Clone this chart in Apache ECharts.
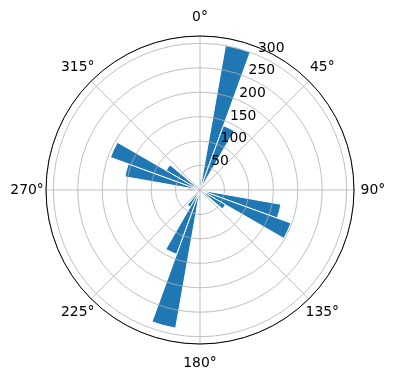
<!DOCTYPE html>
<html><head><meta charset="utf-8">
<script src="https://cdn.jsdelivr.net/npm/echarts@6/dist/echarts.min.js"></script>
<style>html,body{margin:0;padding:0;background:#fff}#c{width:396px;height:380px}</style>
</head><body><div id="c"></div>
<script>
// 10-degree direction bins (start angle of each bin, degrees clockwise from north)
const binStarts = [0,10,20,30,40,50,60,70,80,90,100,110,120,130,140,150,160,170,
                   180,190,200,210,220,230,240,250,260,270,280,290,300,310,320,330,340,350];
// bar heights per bin
const counts = [20,300,140,12,0,0,0,0,0,12,168,198,60,10,0,0,0,0,
                20,287,140,40,0,0,0,0,0,25,156,195,80,10,0,0,0,0];
// tick labels
const angleTicks = [0,45,90,135,180,225,270,315];
const radiusTicks = [50,100,150,200,250,300];
const RMAX = 315;

const font = 'DejaVu Sans';
const base = {color: '#000', fontSize: 13.9, fontFamily: font};
// per-label offsets so each angle label is centred on a common ring outside the plot
const pads = {
  0:   [0, 0, 17, 0],
  45:  [0, 0, 10, 4.6],
  90:  [0, 0, 0, 11.6],
  135: [10, 0, 0, 0.2],
  180: [17, 0, 0, 0],
  225: [10, 0.2, 0, 0],
  270: [0, 7.2, 0, 0],
  315: [0, 0.2, 10, 0]
};
const rich = {};
angleTicks.forEach(t => { rich['a' + t] = Object.assign({padding: pads[t]}, base); });

const chart = echarts.init(document.getElementById('c'), null, {renderer:'canvas'});
const center = [200, 190];
const radius = 154;
chart.setOption({
  animation: false,
  backgroundColor: '#fff',
  polar: [
    {center: center, radius: radius},
    {center: center, radius: radius},
    {center: center, radius: radius}
  ],
  angleAxis: [
    { polarIndex: 0, type: 'value', min: 0, max: 360, interval: 45,
      startAngle: 90, clockwise: true, z: 5,
      axisLine: {show: true, lineStyle: {color: '#000', width: 1}},
      axisTick: {show: false},
      axisLabel: Object.assign({show: true, margin: -5, rich: rich,
        formatter: v => (angleTicks.indexOf(v) >= 0 ? '{a' + v + '|' + v + '°}' : '')}, base),
      splitLine: {show: true, lineStyle: {color: '#b0b0b0', width: 0.8}} },
    { polarIndex: 1, type: 'category', data: binStarts.map(String), boundaryGap: true,
      startAngle: 90, clockwise: true, show: false,
      axisLine: {show: false}, axisTick: {show: false}, axisLabel: {show: false}, splitLine: {show: false} },
    { polarIndex: 2, type: 'value', min: 0, max: 360, startAngle: 67.5, clockwise: true, show: false,
      axisLine: {show: false}, axisTick: {show: false}, axisLabel: {show: false}, splitLine: {show: false} }
  ],
  radiusAxis: [
    { polarIndex: 0, type: 'value', min: 0, max: RMAX, interval: 50, z: 4,
      axisLine: {show: false}, axisTick: {show: false}, axisLabel: {show: false},
      splitLine: {show: true, lineStyle: {color: '#b0b0b0', width: 0.8}} },
    { polarIndex: 1, type: 'value', min: 0, max: RMAX, show: false,
      axisLine: {show: false}, axisTick: {show: false}, axisLabel: {show: false}, splitLine: {show: false} },
    { polarIndex: 2, type: 'value', min: 0, max: RMAX, interval: 50, z: 6,
      axisLine: {show: false}, axisTick: {show: false}, splitLine: {show: false},
      axisLabel: Object.assign({show: true, margin: -2, align: 'left', verticalAlign: 'bottom',
        formatter: v => (radiusTicks.indexOf(v) >= 0 ? String(v) : '')}, base) }
  ],
  series: [{
    type: 'bar', coordinateSystem: 'polar', polarIndex: 1,
    data: counts, barCategoryGap: '0%', z: 2,
    itemStyle: {color: '#1f77b4', borderColor: '#ffffff', borderWidth: 1}
  }]
});
</script>
</body></html>
